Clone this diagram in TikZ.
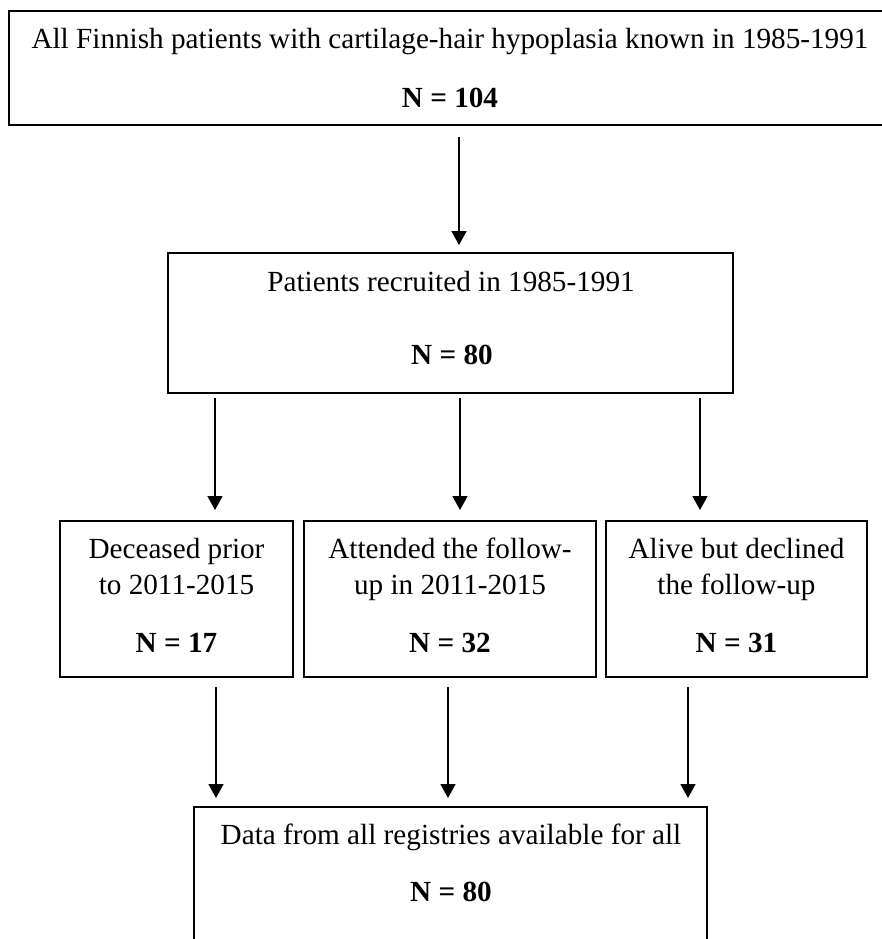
\documentclass[tikz,border=0pt]{standalone}
\usepackage{fontspec}
\setmainfont{Liberation Serif}
\usetikzlibrary{arrows.meta}
\begin{document}
\begin{tikzpicture}[x=0.5pt,y=-0.5pt,
  boxnode/.style={draw=black,line width=0.9pt,inner sep=0pt,outer sep=0pt,fill=none},
  txt/.style={anchor=base,inner sep=0pt,font=\fontsize{14.6}{17}\selectfont},
  ntxt/.style={anchor=base,inner sep=0pt,font=\fontsize{14.6}{17}\selectfont\bfseries},
  arr/.style={line width=0.9pt,-{Triangle[length=7pt,width=7.5pt]}}]
\useasboundingbox[fill=white] (0,0) rectangle (882,939);
\clip (0,0) rectangle (882,939);
% boxes
\node[boxnode,minimum width=450pt,minimum height=57pt] (b1) at (459,68) {};
\node[boxnode,minimum width=282.5pt,minimum height=70pt] (b2) at (450.5,323) {};
\node[boxnode,minimum width=116.5pt,minimum height=78pt] (d) at (176.5,599) {};
\node[boxnode,minimum width=146pt,minimum height=78pt] (m) at (450,599) {};
\node[boxnode,minimum width=130.5pt,minimum height=78pt] (r) at (736.5,599) {};
\node[boxnode,minimum width=256.5pt,minimum height=76pt] (e) at (450.5,883) {};
% texts
\node[txt] (t1a) at (450,48) {All Finnish patients with cartilage-hair hypoplasia known in 1985-1991};
\node[ntxt] (t1b) at (450,107) {N = 104};
\node[txt] (t2a) at (451,291) {Patients recruited in 1985-1991};
\node[ntxt] (t2b) at (452,364) {N = 80};
\node[txt] (tda) at (176.5,558) {Deceased prior};
\node[txt] (tdb) at (176.5,594) {to 2011-2015};
\node[ntxt] (tdc) at (176.5,652) {N = 17};
\node[txt] (tma) at (450,558) {Attended the follow-};
\node[txt] (tmb) at (450,594) {up in 2011-2015};
\node[ntxt] (tmc) at (450,652) {N = 32};
\node[txt] (tra) at (736.5,558) {Alive but declined};
\node[txt] (trb) at (736.5,594) {the follow-up};
\node[ntxt] (trc) at (736.5,652) {N = 31};
\node[txt] (tea) at (451,844) {Data from all registries available for all};
\node[ntxt] (teb) at (451,901) {N = 80};
% arrows
\draw[arr] ([yshift=-6pt]b1.south) -- ([xshift=4.25pt,yshift=4pt]b2.north);
\draw[arr] ([xshift=19.25pt,yshift=-2.5pt]d.north |- b2.south) -- ([xshift=19.25pt,yshift=5.5pt]d.north);
\draw[arr] ([xshift=5pt,yshift=-2.5pt]m.north |- b2.south) -- ([xshift=5pt,yshift=5.5pt]m.north);
\draw[arr] ([xshift=-18.25pt,yshift=-2.5pt]r.north |- b2.south) -- ([xshift=-18.25pt,yshift=5.5pt]r.north);
\draw[arr] ([xshift=19.75pt,yshift=-5pt]d.south) -- ([xshift=19.75pt,yshift=4.5pt]d.south |- e.north);
\draw[arr] ([xshift=-1pt,yshift=-5pt]m.south) -- ([xshift=-1pt,yshift=4.5pt]m.south |- e.north);
\draw[arr] ([xshift=-24.25pt,yshift=-5pt]r.south) -- ([xshift=-24.25pt,yshift=4.5pt]r.south |- e.north);
\end{tikzpicture}
\end{document}
